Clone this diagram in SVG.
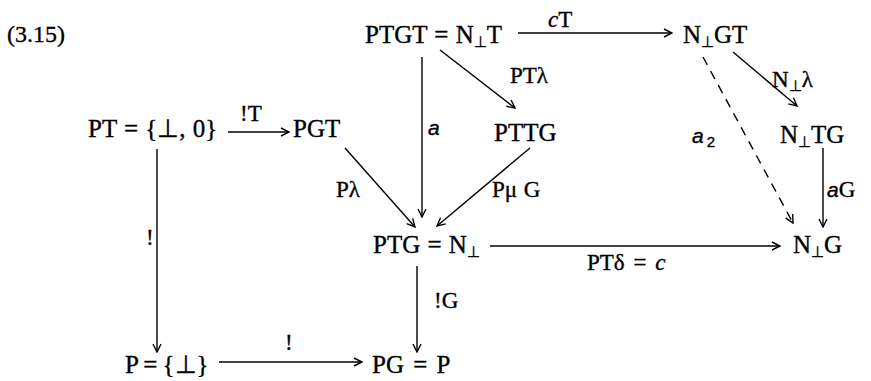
<svg xmlns="http://www.w3.org/2000/svg" width="871" height="381" viewBox="0 0 871 381">
<defs>
<marker id="ah" viewBox="0 0 10 10" refX="9" refY="5" markerWidth="10" markerHeight="10" markerUnits="userSpaceOnUse" orient="auto">
<path d="M1,1 L9,5 L1,9" fill="none" stroke="#000" stroke-width="1.4"/>
</marker>
</defs>
<style>
text{font-family:"Liberation Serif","Times New Roman",serif;font-size:25px;fill:#000;stroke:#000;stroke-width:0.35;word-spacing:1px}
.it{font-style:italic}
.sa{font-family:"Liberation Sans",Arial,sans-serif;font-style:italic;font-size:21px}
.sub{font-size:15px}
.e{stroke:#000;stroke-width:1.4;fill:none;marker-end:url(#ah)}
.d{stroke-dasharray:9,7}
.lbl{font-size:23px}
</style>
<rect width="871" height="381" fill="#fff"/>
<text x="7" y="42" style="font-size:24px">(3.15)</text>

<g id="n_ptgt"><text x="365" y="43">PTGT = N<tspan class="sub" dy="4">⊥</tspan><tspan dy="-4">T</tspan></text></g>
<g id="n_ngt"><text x="683" y="43">N<tspan class="sub" dy="4">⊥</tspan><tspan dy="-4">GT</tspan></text></g>
<g id="n_pt"><text x="88" y="137" style="word-spacing:1px">PT = {⊥, 0}</text></g>
<g id="n_pgt"><text x="293" y="137">PGT</text></g>
<g id="n_pttg"><text x="494" y="141">PTTG</text></g>
<g id="n_ntg"><text x="780" y="143">N<tspan class="sub" dy="4">⊥</tspan><tspan dy="-4">TG</tspan></text></g>
<g id="n_ptg"><text x="373" y="253">PTG = N<tspan class="sub" dy="4">⊥</tspan></text></g>
<g id="n_ng"><text x="793" y="253">N<tspan class="sub" dy="4">⊥</tspan><tspan dy="-4">G</tspan></text></g>
<g id="n_p"><text x="125" y="373" style="word-spacing:-1px">P = {⊥}</text></g>
<g id="n_pg"><text x="372" y="373" style="word-spacing:3px">PG = P</text></g>

<g id="connectors">
<line class="e" x1="228" y1="132" x2="289" y2="132"/>
<line class="e" x1="518" y1="33" x2="672" y2="33"/>
<line class="e" x1="440" y1="50" x2="515" y2="108"/>
<line class="e" x1="422" y1="57" x2="422" y2="217"/>
<line class="e" x1="733" y1="52" x2="797" y2="106"/>
<line class="e d" x1="703" y1="57" x2="793" y2="223"/>
<line class="e" x1="823" y1="148" x2="823" y2="227"/>
<line class="e" x1="345" y1="148" x2="415" y2="227"/>
<line class="e" x1="530" y1="148" x2="437" y2="226"/>
<line class="e" x1="490" y1="246" x2="780" y2="246"/>
<line class="e" x1="157" y1="149" x2="157" y2="352"/>
<line class="e" x1="417" y1="266" x2="417" y2="352"/>
<line class="e" x1="219" y1="362" x2="362" y2="362"/>

<text class="lbl" x="240" y="121">!T</text>
<text class="lbl" x="548" y="27"><tspan class="it">c</tspan>T</text>
<text class="lbl" x="510" y="83">PTλ</text>
<text class="sa" x="428" y="135">a</text>
<text class="lbl" x="772" y="87">N<tspan class="sub" dy="4">⊥</tspan><tspan dy="-4">λ</tspan></text>
<text class="sa" x="692" y="143">a<tspan class="sub" dx="3" dy="4" style="font-style:normal">2</tspan></text>
<text class="lbl" x="827" y="197"><tspan class="sa">a</tspan>G</text>
<text class="lbl" x="336" y="197">Pλ</text>
<text class="lbl" x="492" y="197">Pμ G</text>
<text class="lbl" x="587" y="270" style="word-spacing:3px">PTδ = <tspan class="it">c</tspan></text>
<text class="lbl" x="146" y="245">!</text>
<text class="lbl" x="434" y="308">!G</text>
<text class="lbl" x="285" y="350">!</text>
</g>
</svg>
